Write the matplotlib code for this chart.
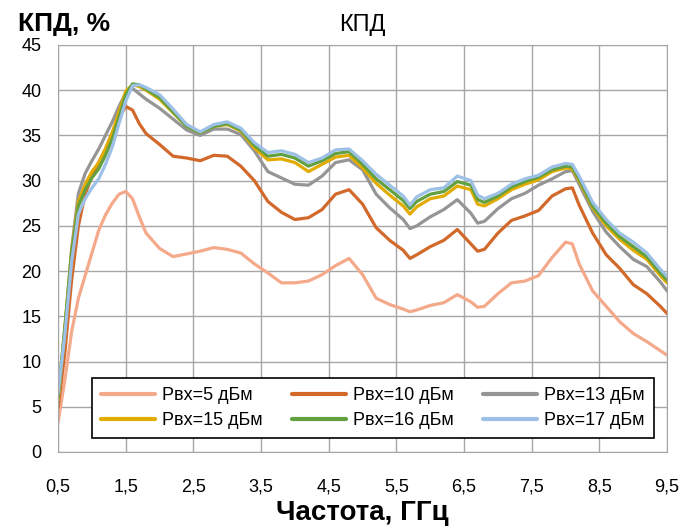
import matplotlib
matplotlib.use('Agg')
import matplotlib.pyplot as plt
import matplotlib.ticker as mticker

plt.rcParams['font.family'] = ['Liberation Sans Narrow', 'Liberation Sans', 'DejaVu Sans']

# частота, ГГц
freq = [0.5, 0.6, 0.7, 0.8, 0.9, 1.0, 1.1, 1.2, 1.3, 1.4, 1.5, 1.6, 1.7, 1.8,
        2.0, 2.2, 2.4, 2.6, 2.8, 3.0, 3.2, 3.4, 3.6, 3.8, 4.0, 4.2, 4.4, 4.6,
        4.8, 5.0, 5.2, 5.4, 5.6, 5.7, 5.8, 6.0, 6.2, 6.4, 6.6, 6.7, 6.8, 7.0,
        7.2, 7.4, 7.6, 7.8, 8.0, 8.1, 8.2, 8.4, 8.6, 8.8, 9.0, 9.2, 9.4, 9.5]

# КПД, % для разных входных мощностей
p5 = [3.3, 8.0, 13.3, 17.0, 19.5, 22.0, 24.5, 26.2, 27.5, 28.5, 28.8, 28.0, 26.0, 24.2,
      22.5, 21.6, 21.9, 22.2, 22.6, 22.4, 22.0, 20.8, 19.8, 18.7, 18.7, 18.9, 19.6, 20.6,
      21.4, 19.6, 17.0, 16.3, 15.8, 15.5, 15.7, 16.2, 16.5, 17.4, 16.6, 16.0, 16.1, 17.5,
      18.7, 18.9, 19.5, 21.5, 23.2, 23.0, 20.8, 17.8, 16.1, 14.4, 13.1, 12.2, 11.2, 10.7]
p10 = [4.9, 11.0, 19.0, 25.0, 28.5, 30.5, 32.0, 33.5, 35.3, 37.0, 38.2, 37.8, 36.3, 35.2,
       34.0, 32.7, 32.5, 32.2, 32.8, 32.7, 31.6, 30.0, 27.7, 26.5, 25.7, 25.9, 26.8, 28.5,
       29.0, 27.4, 24.8, 23.4, 22.3, 21.4, 21.8, 22.7, 23.4, 24.6, 23.0, 22.2, 22.4, 24.2,
       25.6, 26.1, 26.7, 28.3, 29.1, 29.2, 27.3, 24.2, 21.8, 20.3, 18.5, 17.5, 16.1, 15.3]
p13 = [5.7, 13.5, 22.5, 28.6, 30.8, 32.2, 33.5, 35.0, 36.5, 38.2, 39.7, 40.2, 39.6, 39.0,
       38.0, 36.8, 35.6, 35.0, 35.7, 35.7, 35.1, 33.3, 31.0, 30.3, 29.6, 29.5, 30.5, 32.0,
       32.3, 31.2, 28.5, 27.0, 25.7, 24.7, 25.0, 26.0, 26.8, 27.9, 26.4, 25.3, 25.5, 26.9,
       28.0, 28.6, 29.5, 30.2, 31.0, 31.1, 29.6, 26.6, 24.3, 22.7, 21.3, 20.5, 18.8, 17.8]
p15 = [5.8, 13.8, 22.2, 27.7, 29.6, 31.0, 32.0, 33.5, 35.3, 37.6, 39.9, 40.6, 40.4, 40.0,
       39.0, 37.5, 36.0, 35.3, 36.0, 36.2, 35.5, 33.6, 32.3, 32.4, 32.0, 31.0, 31.8, 32.6,
       32.8, 31.4, 29.7, 28.4, 27.2, 26.3, 27.1, 28.0, 28.3, 29.4, 29.0, 27.4, 27.2, 28.0,
       29.0, 29.6, 30.1, 31.0, 31.4, 31.3, 30.0, 27.0, 25.0, 23.5, 22.3, 21.3, 19.5, 18.7]
p16 = [6.0, 13.8, 22.0, 27.2, 29.0, 30.3, 31.3, 32.8, 34.6, 37.0, 39.5, 40.7, 40.6, 40.1,
       39.2, 37.6, 36.0, 35.3, 36.0, 36.3, 35.6, 33.9, 32.7, 32.9, 32.5, 31.6, 32.2, 33.0,
       33.2, 31.8, 30.2, 29.0, 27.8, 26.9, 27.7, 28.5, 28.8, 29.9, 29.5, 27.9, 27.6, 28.3,
       29.3, 29.9, 30.4, 31.2, 31.6, 31.5, 30.2, 27.2, 25.3, 23.8, 22.7, 21.6, 19.8, 19.0]
p17 = [6.5, 13.0, 21.0, 26.3, 28.0, 29.2, 30.2, 31.8, 33.7, 36.3, 38.8, 40.5, 40.6, 40.3,
       39.5, 37.9, 36.2, 35.4, 36.2, 36.5, 35.8, 34.2, 33.1, 33.3, 32.9, 32.0, 32.5, 33.4,
       33.5, 32.2, 30.7, 29.5, 28.3, 27.3, 28.2, 29.0, 29.2, 30.5, 30.0, 28.4, 28.0, 28.6,
       29.6, 30.2, 30.6, 31.5, 31.9, 31.8, 30.5, 27.6, 25.7, 24.2, 23.2, 22.0, 20.2, 19.4]

labels = ['Рвх=5 дБм', 'Рвх=10 дБм', 'Рвх=13 дБм', 'Рвх=15 дБм', 'Рвх=16 дБм', 'Рвх=17 дБм']
colors = ['#F4A98A', '#D2692A', '#959595', '#E2AB00', '#62A040', '#9CC0E6']
series = [p5, p10, p13, p15, p16, p17]

fig = plt.figure(figsize=(7, 5.29), dpi=100)
ax = fig.add_axes([0.083, 0.1456, 0.87, 0.7694])

lines = []
for y, lab, c in zip(series, labels, colors):
    ln, = ax.plot(freq, y, color=c, lw=2.3, label=lab,
                  solid_capstyle='round', solid_joinstyle='round')
    lines.append(ln)

ax.set_xlim(0.5, 9.5)
ax.set_ylim(0, 45)
ax.set_xticks([0.5 + i for i in range(10)])
ax.set_yticks(range(0, 50, 5))
ax.xaxis.set_major_formatter(mticker.FuncFormatter(lambda v, p: ('%.1f' % v).replace('.', ',')))
ax.grid(True, color='#A6A6A6', lw=1)
ax.set_axisbelow(True)
for s in ax.spines.values():
    s.set_color('#A6A6A6')
ax.tick_params(length=0, labelsize=13)
ax.tick_params(axis='x', pad=19)
ax.tick_params(axis='y', pad=12)

ax.set_title('КПД', fontsize=17, pad=10)
fig.text(0.025, 0.955, 'КПД, %', fontsize=19, fontweight='bold', va='center')
ax.set_xlabel('Частота, ГГц', fontsize=20, fontweight='bold', labelpad=3)

order = [0, 3, 1, 4, 2, 5]
leg = ax.legend([lines[i] for i in order], [labels[i] for i in order], ncol=3,
                loc='lower right', bbox_to_anchor=(0.993, 0.012), fontsize=13,
                fancybox=False, framealpha=1, edgecolor='black',
                handlelength=3.0, columnspacing=1.6, handletextpad=0.4,
                borderpad=0.5, labelspacing=0.45)
leg.get_frame().set_linewidth(1.2)
for l in leg.get_lines():
    l.set_linewidth(3)

fig.savefig('out.png', dpi=100)
